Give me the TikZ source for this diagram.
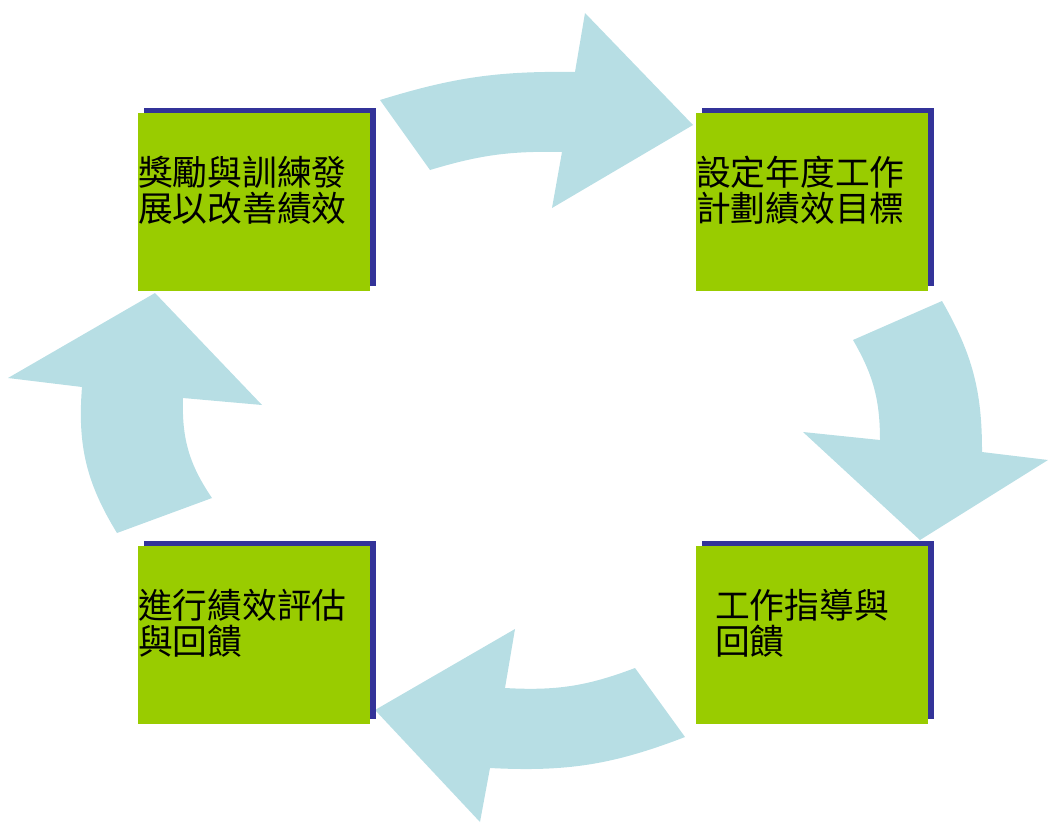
\documentclass[tikz,border=0pt]{standalone}
\usepackage{fontspec}
\newfontfamily\cjk{Noto Sans CJK TC}
\usetikzlibrary{shadows}
\definecolor{boxgreen}{RGB}{153,204,0}
\definecolor{boxshade}{RGB}{51,51,153}
\definecolor{arrowblue}{RGB}{183,222,228}
\tikzset{
  stage/.style={fill=boxgreen, minimum width=4.64cm, minimum height=3.56cm,
    inner xsep=0pt, text width=4.64cm, align=left, text depth=1.23cm,
    font=\cjk\fontsize{19.8pt}{20pt}\selectfont,
    drop shadow={fill=boxshade, opacity=1, shadow xshift=0.12cm, shadow yshift=0.1cm}},
  bigarrow/.style={fill=arrowblue}
}
\begin{document}
\begin{tikzpicture}[x=0.02cm, y=-0.02cm]
\useasboundingbox (0,0) rectangle (1048,822);
% arrows
\fill[bigarrow] (380,100) to[bend left=9] (575,72) -- (585,13) -- (693,125)
    -- (552,208) -- (562,152) to[bend right=9] (430,170) -- cycle;
\fill[bigarrow] (942,301) to[bend left=15] (982,452) -- (1048,460) -- (920,540)
    -- (803,432) -- (880,440) to[bend right=15] (853,340) -- cycle;
\fill[bigarrow] (685,737) to[bend left=12] (490,768) -- (480,822) -- (375,710)
    -- (515,629) -- (505,688) to[bend right=12] (635,668) -- cycle;
\fill[bigarrow] (117,533) to[bend left=18] (82,387) -- (8,378) -- (155,293)
    -- (262,405) -- (183,398) to[bend right=18] (212,498) -- cycle;
% boxes
\node[stage] (s1) at (254,202) {獎勵與訓練發\\展以改善績效};
\node[stage] (s2) at (812,202) {設定年度工作\\計劃績效目標};
\node[stage, inner xsep=0.38cm, text width=3.88cm] (s3) at (812,635) {工作指導與\\回饋};
\node[stage] (s4) at (254,635) {進行績效評估\\與回饋};
\end{tikzpicture}
\end{document}
